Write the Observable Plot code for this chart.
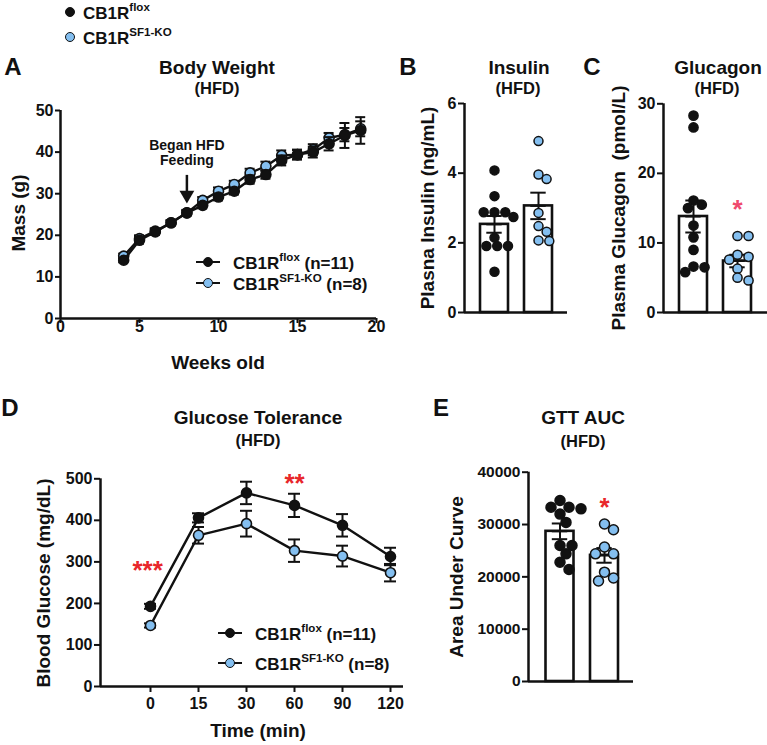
<!DOCTYPE html>
<html><head><meta charset="utf-8">
<script src="https://cdn.jsdelivr.net/npm/d3@7"></script>
<script src="https://cdn.jsdelivr.net/npm/@observablehq/plot@0.6"></script>
<style>
html,body{margin:0;padding:0;background:#fff;overflow:hidden}
#fig{position:relative;width:767px;height:745px;overflow:hidden;font-family:"Liberation Sans",Arial,Helvetica,sans-serif;font-weight:bold;color:#111}
#fig svg{position:absolute;left:0;top:0;overflow:visible;background:transparent}
.lab{position:absolute;white-space:nowrap;line-height:1}
.lab sup{font-size:0.68em;position:relative;top:-0.12em;vertical-align:super;line-height:0}
.sw{position:absolute}
</style></head>
<body><div id="fig"></div>
<script>
// ---------- DATA ----------
const weeks = [4,5,6,7,8,9,10,11,12,13,14,15,16,17,18,19];
const bwFlox    = [14.0,18.8,20.8,23.0,25.4,27.2,29.2,30.6,33.4,34.6,38.0,39.4,40.0,42.0,44.0,45.2];
const bwFloxSem = [0.5,0.8,0.7,0.6,0.6,0.7,0.8,0.8,1.0,1.0,1.2,1.2,1.3,1.6,3.0,3.2];
const bwKO      = [15.0,19.2,21.0,23.0,25.4,28.4,30.6,32.2,35.0,36.6,39.2,39.4,40.6,43.4,44.2,45.6];
const bwKOSem   = [0.6,0.8,0.7,0.6,0.7,0.8,0.9,0.9,1.0,1.1,1.2,1.1,1.3,1.2,1.6,1.8];
const hfdStart = [{week: 8, textY: 39.8, arrowTop: 34.4, headY: 29.7}];

const insFlox = [4.08,3.34,2.88,2.88,2.88,2.74,2.15,1.91,1.91,1.91,1.17];
const insKO   = [4.92,3.96,3.83,2.86,2.48,2.32,2.05,2.07];
const insMean = [2.53,3.06], insSem = [0.24,0.38];

const gcgFlox = [28.3,26.6,16.1,15.5,15.0,12.5,10.8,9.0,6.6,6.5,5.8];
const gcgKO   = [11.0,11.0,8.3,8.0,7.6,6.3,5.0,4.6];
const gcgMean = [13.8,7.4], gcgSem = [2.3,0.9];
const gcgSig  = [{g:1, y:15.8, t:"*"}];

const gttTimes = [0,15,30,60,90,120];
const gttFlox = [193,406,466,436,388,313], gttFloxSem = [6,11,27,28,27,21];
const gttKO   = [147,364,392,327,314,274], gttKOSem   = [5,20,31,27,25,21];
const gttSig  = [{i:-0.06, y:296, t:"***"},{i:3, y:506, t:"**"}];

const aucFlox = [34600,33300,33300,33000,32000,30400,26000,26000,24400,22800,21400];
const aucKO   = [30100,29000,25700,24400,24400,20900,19800,19200];
const aucMean = [28700,24100], aucSem = [1500,1400];
const aucSig  = [{g:1, y:34600, t:"*"}];

// ---------- STYLE ----------
const W=767,H=745;
const FONT='"Liberation Sans", Arial, Helvetica, sans-serif';
const BLUE="#84bff0", RED="#e8262a", PINK="#ef4a6c";
const fig=document.getElementById("fig");

function base(f, fs=16){
  return {width:W,height:H,marginLeft:f.x0,marginRight:W-f.x1,marginTop:f.y0,marginBottom:H-f.y1,
    style:`background:transparent;font-family:${FONT};font-weight:bold;font-size:${fs}px;color:#111;overflow:visible;max-width:none`};
}
function series(rows, xk, cap, fill, r){
  return [
    Plot.ruleX(rows,{x:xk,y1:d=>d.m-d.s,y2:d=>d.m+d.s,strokeWidth:2,stroke:"#111"}),
    Plot.ruleY(rows,{y:d=>d.m+d.s,x1:d=>d[xk]-cap,x2:d=>d[xk]+cap,strokeWidth:2,stroke:"#111"}),
    Plot.ruleY(rows,{y:d=>d.m-d.s,x1:d=>d[xk]-cap,x2:d=>d[xk]+cap,strokeWidth:2,stroke:"#111"}),
    Plot.line(rows,{x:xk,y:"m",strokeWidth:2.4,stroke:"#111"}),
    Plot.dot(rows,{x:xk,y:"m",r,fill,stroke:"#111",strokeWidth:1.6})
  ];
}
function swarm(values, pxPerY, pxPerX, r){
  const placed=[], out=[];
  const order=values.map((v,i)=>i).sort((a,b)=>values[b]-values[a]);
  for(const i of order){
    const py=values[i]*pxPerY; let best=0;
    for(let k=0;k<60;k++){
      const c=(k%2?1:-1)*Math.ceil(k/2)*r*0.6;
      if(placed.every(p=>Math.hypot(p.x-c,p.y-py)>=2*r*0.95)){best=c;break;}
    }
    placed.push({x:best,y:py}); out[i]=best/pxPerX;
  }
  return out;
}

// ---------- PANEL A ----------
const FA={x0:60,x1:376,y0:110,y1:318};
const rowsA=(v,s)=>weeks.map((w,i)=>({w,m:v[i],s:s[i]}));
const capA=5/((FA.x1-FA.x0)/20);
fig.appendChild(Plot.plot({...base(FA),
  x:{domain:[0,20]}, y:{domain:[0,50]},
  marks:[
    Plot.axisX({ticks:[0,5,10,15,20],tickSize:5,tickPadding:-3,label:null,strokeWidth:2}),
    Plot.axisY({ticks:[0,10,20,30,40,50],tickSize:5,tickPadding:2,label:null,strokeWidth:2}),
    Plot.ruleX([0],{strokeWidth:2.5,stroke:"#111"}),
    Plot.ruleY([0],{strokeWidth:2.5,stroke:"#111"}),
    ...series(rowsA(bwKO,bwKOSem),"w",capA,BLUE,5),
    ...series(rowsA(bwFlox,bwFloxSem),"w",capA,"#111",5),
    Plot.text(hfdStart,{x:"week",y:"textY",text:()=>"Began HFD\nFeeding",fontSize:14,lineHeight:1.08,fill:"#111"}),
    Plot.ruleX(hfdStart,{x:"week",y1:"arrowTop",y2:"headY",strokeWidth:2.5,stroke:"#111"}),
    Plot.dot(hfdStart,{x:"week",y:"headY",symbol:"triangle",r:5.5,rotate:180,fill:"#111",stroke:"none"})
  ]}));

// ---------- BAR PANELS ----------
function barPanel(f, c0, c1, ymax, yticks, groups, sig, sigColor, r, fs){
  const unit=c1-c0;
  const dom=[(f.x0-c0)/unit,(f.x1-c0)/unit];
  const hw=14/unit;
  const pxY=(f.y1-f.y0)/ymax;
  const bars=groups.map((g,i)=>({g:i,m:g.mean,s:g.sem}));
  const pts=groups.flatMap((g,i)=>{const off=swarm(g.vals,pxY,unit,r);return g.vals.map((v,j)=>({x:i+off[j],v,fill:g.fill}));});
  return Plot.plot({...base(f,fs),
    x:{domain:dom,axis:null}, y:{domain:[0,ymax]},
    marks:[
      Plot.axisY({ticks:yticks,tickFormat:d3.format("d"),tickSize:6,tickPadding:2,label:null,strokeWidth:2}),
      Plot.rect(bars,{x1:d=>d.g-hw,x2:d=>d.g+hw,y1:0,y2:"m",fill:"white",stroke:"#111",strokeWidth:2.6}),
      Plot.ruleX([dom[0]],{strokeWidth:2.5,stroke:"#111"}),
      Plot.ruleY([0],{strokeWidth:2.5,stroke:"#111"}),
      Plot.ruleX(bars,{x:"g",y1:d=>d.m-d.s,y2:d=>d.m+d.s,strokeWidth:2,stroke:"#111"}),
      Plot.ruleY(bars,{y:d=>d.m+d.s,x1:d=>d.g-hw*0.55,x2:d=>d.g+hw*0.55,strokeWidth:2,stroke:"#111"}),
      Plot.ruleY(bars,{y:d=>d.m-d.s,x1:d=>d.g-hw*0.55,x2:d=>d.g+hw*0.55,strokeWidth:2,stroke:"#111"}),
      Plot.ruleY(bars,{y:"m",x1:d=>d.g-hw*0.55,x2:d=>d.g+hw*0.55,strokeWidth:2,stroke:"#111"}),
      Plot.dot(pts,{x:"x",y:"v",r,fill:"fill",stroke:"#111",strokeWidth:1.5}),
      Plot.text(sig,{x:"g",y:"y",text:"t",fill:sigColor,fontSize:26,dy:7})
    ]});
}
fig.appendChild(barPanel({x0:464,x1:567,y0:103,y1:312},494,538,6,[0,2,4,6],
  [{vals:insFlox,mean:insMean[0],sem:insSem[0],fill:"#111"},{vals:insKO,mean:insMean[1],sem:insSem[1],fill:BLUE}],[],RED,4.5,16));
fig.appendChild(barPanel({x0:663,x1:767,y0:103.3,y1:312},693,737,30,[0,10,20,30],
  [{vals:gcgFlox,mean:gcgMean[0],sem:gcgSem[0],fill:"#111"},{vals:gcgKO,mean:gcgMean[1],sem:gcgSem[1],fill:BLUE}],gcgSig,PINK,4.6,16));
fig.appendChild(barPanel({x0:528,x1:633,y0:471.7,y1:681},559.5,604,40000,[0,10000,20000,30000,40000],
  [{vals:aucFlox,mean:aucMean[0],sem:aucSem[0],fill:"#111"},{vals:aucKO,mean:aucMean[1],sem:aucSem[1],fill:BLUE}],aucSig,RED,5,15.5));

// ---------- PANEL D ----------
const FD={x0:100,x1:403,y0:478.3,y1:686};
const rowsD=(v,s)=>gttTimes.map((t,i)=>({i,m:v[i],s:s[i]}));
const capD=6/48;
fig.appendChild(Plot.plot({...base(FD),
  x:{domain:[-50/48,253/48]}, y:{domain:[0,500]},
  marks:[
    Plot.axisX({ticks:d3.range(gttTimes.length),tickFormat:i=>gttTimes[i],tickSize:6,tickPadding:5,label:null,strokeWidth:2}),
    Plot.axisY({ticks:[0,100,200,300,400,500],tickSize:6,tickPadding:2,label:null,strokeWidth:2}),
    Plot.ruleX([-50/48],{strokeWidth:2.5,stroke:"#111"}),
    Plot.ruleY([0],{strokeWidth:2.5,stroke:"#111"}),
    ...series(rowsD(gttKO,gttKOSem),"i",capD,BLUE,5),
    ...series(rowsD(gttFlox,gttFloxSem),"i",capD,"#111",5),
    Plot.text(gttSig,{x:"i",y:"y",text:"t",fill:RED,fontSize:26,dy:7})
  ]}));

// ---------- TEXT ----------
function label(html,cx,cy,size,rot){
  const d=document.createElement("div");d.className="lab";d.innerHTML=html;
  d.style.left=cx+"px";d.style.top=cy+"px";d.style.fontSize=size+"px";
  d.style.transform="translate(-50%,-50%)"+(rot?" rotate(-90deg)":"");
  fig.appendChild(d);
}
function leftLabel(html,x,cy,size){
  const d=document.createElement("div");d.className="lab";d.innerHTML=html;
  d.style.left=x+"px";d.style.top=cy+"px";d.style.fontSize=size+"px";d.style.transform="translate(0,-50%)";
  fig.appendChild(d);
}
function swatch(cx,cy,fill,line){
  if(line){const l=document.createElement("div");l.className="sw";
    Object.assign(l.style,{left:(cx-12)+"px",top:(cy-1.1)+"px",width:"24px",height:"2.2px",background:"#111"});fig.appendChild(l);}
  const d=document.createElement("div");d.className="sw";
  Object.assign(d.style,{left:(cx-5)+"px",top:(cy-5)+"px",width:"10px",height:"10px",borderRadius:"50%",background:fill,border:"1.5px solid #111",boxSizing:"border-box"});
  fig.appendChild(d);
}
const FLOX="CB1R<sup>flox</sup>", KO="CB1R<sup>SF1-KO</sup>";
// top legend
swatch(70,12,"#111",false); leftLabel(FLOX,83,13,17);
swatch(70,37,BLUE,false); leftLabel(KO,83,38,17);
// panel letters
label("A",13,67,24); label("B",408,67,24); label("C",592,67,24); label("D",10,408,24); label("E",441,408,24);
// titles
label("Body Weight",217,67,19); label("(HFD)",217,88,16.5);
label("Insulin",519,67,19); label("(HFD)",518,88,16.5);
label("Glucagon",718,67,19); label("(HFD)",717,88,16.5);
label("Glucose Tolerance",258,417,19); label("(HFD)",258,440,16.5);
label("GTT AUC",583,417,19); label("(HFD)",583,441,16.5);
// axis labels
label("Mass (g)",18,213,19,true); label("Weeks old",218,362,19);
label("Plasna Insulin (ng/mL)",427,208,19,true);
label("Plasma Glucagon&nbsp; (pmol/L)",618,208,19,true);
label("Blood Glucose (mg/dL)",43,583,19,true); label("Time (min)",258,730,19);
label("Area Under Curve",456,577,19,true);
// in-panel legends
swatch(208,262,"#111",true); leftLabel(FLOX+" (n=11)",233,263,17);
swatch(208,283,BLUE,true); leftLabel(KO+" (n=8)",233,284,17);
swatch(230,633,"#111",true); leftLabel(FLOX+" (n=11)",255,634,17);
swatch(230,663,BLUE,true); leftLabel(KO+" (n=8)",255,664,17);
</script></body></html>
